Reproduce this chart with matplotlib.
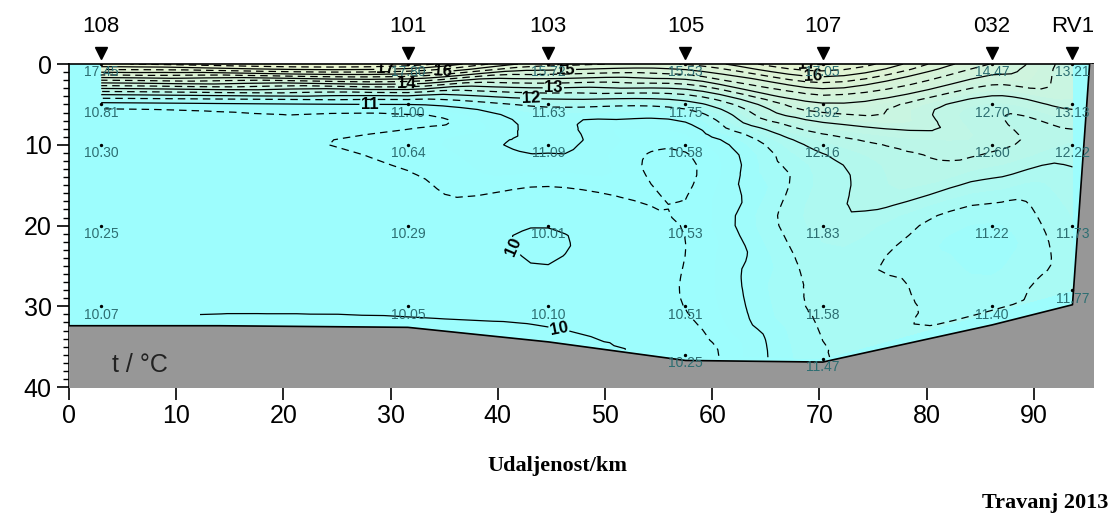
import numpy as np
import matplotlib
matplotlib.use("Agg")
import matplotlib.pyplot as plt
import matplotlib.tri as mtri
from matplotlib.colors import LinearSegmentedColormap
from matplotlib.ticker import MultipleLocator

plt.rcParams['font.family'] = ['Liberation Sans', 'DejaVu Sans']

# stations along the section (km from 108)
stations = ['108', '101', '103', '105', '107', '032', 'RV1']
station_km = [3.0, 31.6, 44.7, 57.5, 70.3, 86.1, 93.6]

# temperature samples: station index, depth (m), t (degC)
samp_station = [0, 0, 0, 0, 0,
                1, 1, 1, 1, 1,
                2, 2, 2, 2, 2,
                3, 3, 3, 3, 3, 3,
                4, 4, 4, 4, 4, 4,
                5, 5, 5, 5, 5,
                6, 6, 6, 6, 6]
samp_depth = [0, 5, 10, 20, 30,
              0, 5, 10, 20, 30,
              0, 5, 10, 20, 30,
              0, 5, 10, 20, 30, 36,
              0, 5, 10, 20, 30, 36.5,
              0, 5, 10, 20, 30,
              0, 5, 10, 20, 28]
samp_temp = [17.45, 10.81, 10.30, 10.25, 10.07,
             17.80, 11.00, 10.64, 10.29, 10.05,
             15.72, 11.63, 11.09, 10.01, 10.10,
             15.53, 11.75, 10.58, 10.53, 10.51, 10.25,
             17.05, 13.92, 12.16, 11.83, 11.58, 11.47,
             14.47, 12.70, 12.60, 11.22, 11.40,
             13.21, 13.13, 12.22, 11.73, 11.77]

# bottom profile / coast
bottom_km = [0, 14, 31.6, 44.7, 57.5, 70.3, 86.1, 93.6, 95.2, 96.0]
bottom_m = [32.4, 32.4, 32.6, 34.4, 36.7, 36.9, 32.3, 29.8, 0.0, 0.0]

x = np.array([station_km[i] for i in samp_station])
z = np.array(samp_depth, dtype=float)
t = np.array(samp_temp)

fig = plt.figure(figsize=(11.14, 5.21), dpi=100)
ax = fig.add_axes([0.062, 0.257, 0.919, 0.620])

cmap = LinearSegmentedColormap.from_list(
    'sec', [(0.0, '#9dfdfd'), (0.08, '#9ffcfb'), (0.25, '#b8f7ea'),
            (0.42, '#cdf4df'), (0.67, '#dcf3d5'), (1.0, '#ecf6d0')])
ax.set_facecolor('#9dfdfd')

tri = mtri.Triangulation(x, z)
interp = mtri.CubicTriInterpolator(tri, t, kind='geom')
refiner = mtri.UniformTriRefiner(tri)
tri_f, t_f = refiner.refine_field(t, triinterpolator=interp, subdiv=3)

ax.tricontourf(tri_f, t_f, levels=np.arange(9.5, 18.6, 0.25), cmap=cmap,
               vmin=10.5, vmax=18, extend='both')
half = np.arange(9.5, 18.0, 0.5)
cs_d = ax.tricontour(tri_f, t_f, levels=half[half % 1 != 0], colors='black',
                     linewidths=0.9, linestyles=[(0, (6, 4))])
cs = ax.tricontour(tri_f, t_f, levels=np.arange(10, 18, 1), colors='black',
                   linewidths=0.9, linestyles='solid')
lbl = ax.clabel(cs, fmt='%d', fontsize=12, inline=True, inline_spacing=2)
for l in lbl:
    l.set_fontweight('bold')

# seabed
ax.fill_between(bottom_km, bottom_m, 40, color='#979797', zorder=5)
ax.plot(bottom_km[:-1], bottom_m[:-1], color='black', lw=1.2, zorder=6)

# posted values
ax.scatter(x, z, s=2, color='black', zorder=7)
for xi, zi, ti in zip(x, z, t):
    ax.annotate('%.2f' % ti, (xi, zi), xytext=(0, -1), textcoords='offset points',
                ha='center', va='top', fontsize=10, color='#2d6e72', zorder=7)

ax.text(4, 37.3, 't / °C', fontsize=18, va='center', ha='left', zorder=8,
        color='#222222')

ax.set_xlim(0, 95.5)
ax.set_ylim(40, 0)
ax.xaxis.set_major_locator(MultipleLocator(10))
ax.yaxis.set_major_locator(MultipleLocator(10))
ax.yaxis.set_minor_locator(MultipleLocator(1))
ax.tick_params(axis='both', which='major', labelsize=18, direction='out',
               length=9, width=1.2)
ax.tick_params(axis='y', which='minor', direction='out', length=4, width=1)
for sp in ax.spines.values():
    sp.set_linewidth(1.2)

# stations on top
trans = ax.get_xaxis_transform()
ax.plot(station_km, [1.035] * len(station_km), 'kv', ms=9, transform=trans,
        clip_on=False)
for name, km in zip(stations, station_km):
    ax.text(km, 1.085, name, transform=trans, ha='center', va='bottom',
            fontsize=16)

fig.text(0.5, 0.105, 'Udaljenost/km', ha='center', va='center',
         fontsize=16, fontweight='bold', family='Liberation Serif')
fig.text(0.995, 0.035, 'Travanj 2013', ha='right', va='center',
         fontsize=16, fontweight='bold', family='Liberation Serif')

fig.savefig('out.png', dpi=100)
